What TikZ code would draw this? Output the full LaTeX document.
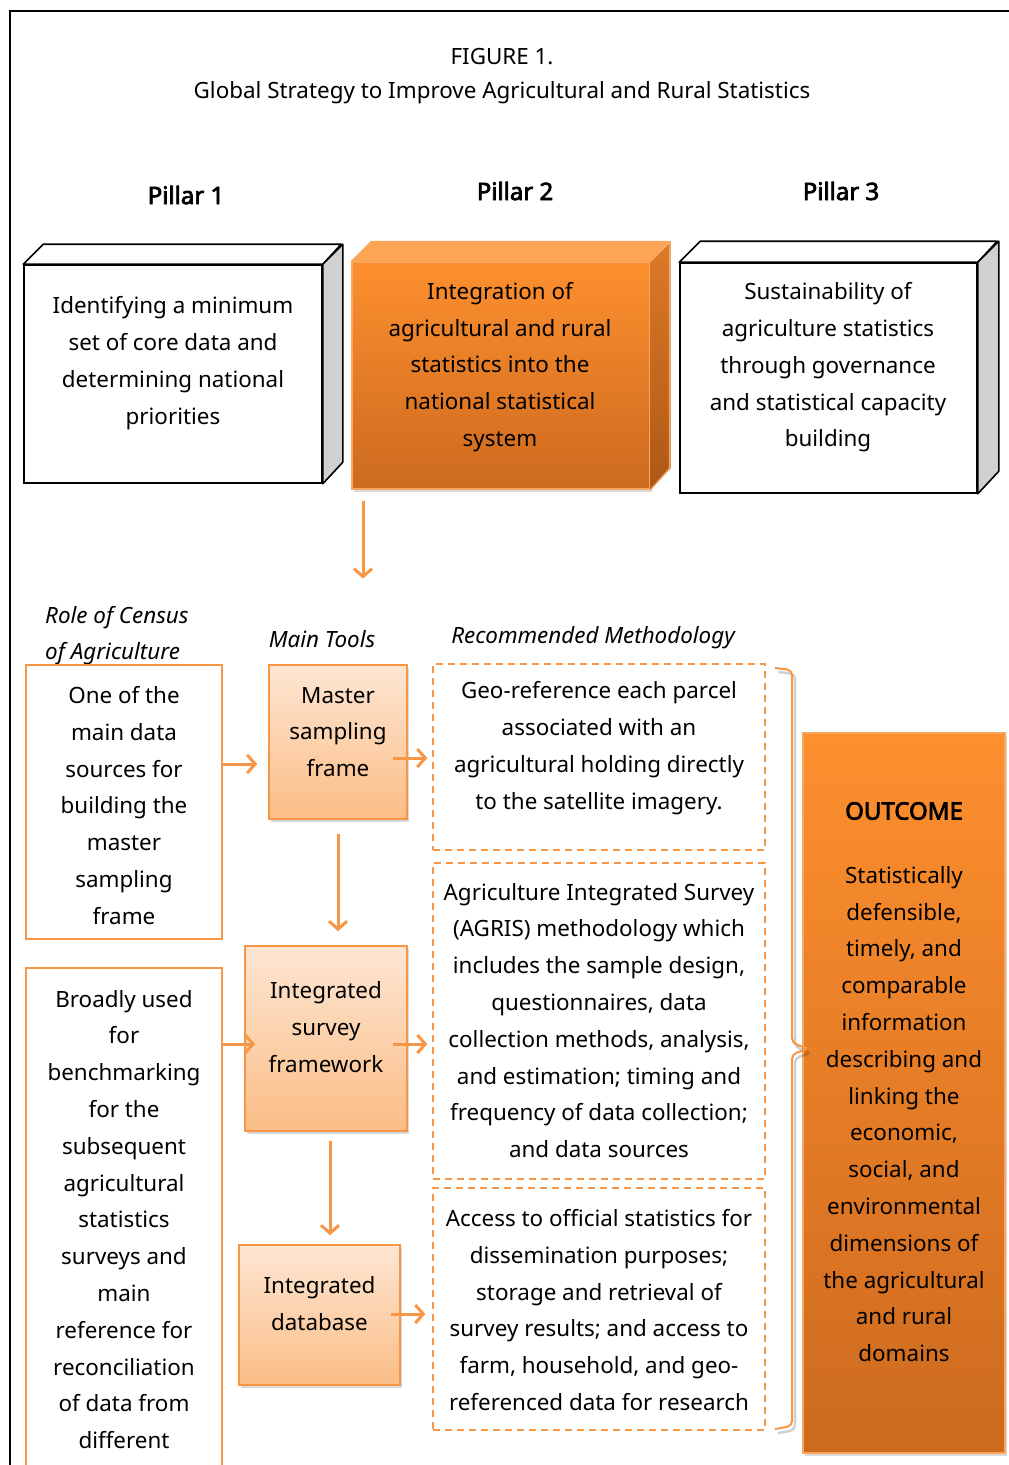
\documentclass[tikz,border=0pt]{standalone}
\usepackage{fontspec}
\setmainfont{Noto Sans}
\newfontfamily\heavy{Noto Sans}[FakeBold=3]
\usetikzlibrary{shadows,calc,arrows.meta}
\definecolor{acc}{HTML}{F79646}
\definecolor{orTop}{HTML}{FD8F2E}
\definecolor{orBot}{HTML}{CD6A1F}
\definecolor{orFace}{HTML}{FDA553}
\definecolor{orSideTop}{HTML}{DC7A28}
\definecolor{orSideBot}{HTML}{AE5816}
\definecolor{lightTop}{HTML}{FDE6D3}
\definecolor{lightBot}{HTML}{FBBD86}
\definecolor{sidegray}{HTML}{D0D0D0}
\begin{document}
\begin{tikzpicture}[x=1pt,y=-1pt,
  body/.style={font=\fontsize{22.4}{36.8}\selectfont, align=center, inner sep=0pt},
  head/.style={font=\fontsize{22.4}{36}\selectfont\itshape, inner sep=0pt},
  pillarhead/.style={font=\fontsize{24}{28}\selectfont\heavy, inner sep=0pt},
  whitebox/.style={draw=black, line width=1.6pt, fill=white, inner sep=0pt},
  frontface/.style={draw=acc!85!white, line width=1.2pt, top color=orTop, bottom color=orBot, inner sep=0pt,
     drop shadow={shadow xshift=2pt, shadow yshift=-3pt, opacity=.3}},
  toolbox/.style={draw=acc, line width=1.6pt, top color=lightTop, bottom color=lightBot, inner sep=0pt,
     drop shadow={shadow xshift=2pt, shadow yshift=-3pt, opacity=.3}},
  rolebox/.style={draw=acc, line width=1.4pt, fill=white, inner sep=0pt},
  methbox/.style={draw=acc, line width=1.4pt, dash pattern=on 7pt off 5pt, inner sep=0pt},
  arr/.style={draw=acc, line width=3pt, -{Straight Barb[length=8pt,width=18pt,line width=3pt]}},
]
\useasboundingbox (0,0) rectangle (1009,1465);
\clip (0,0) rectangle (1009,1465);

% outer frame, open to the right and bottom
\draw[line width=2.4pt] (10,1500) -- (10,11) -- (1030,11);

% title
\node[body] (fig) at (502,57) {FIGURE 1.};
\node[body] (ttl) at (502,93) {Global Strategy to Improve Agricultural and Rural Statistics};

% pillar headings
\node[pillarhead] (h1) at (186,195) {Pillar 1};
\node[pillarhead] (h2) at (515,191) {Pillar 2};
\node[pillarhead] (h3) at (841,191) {Pillar 3};

% pillar 1 block
\node[whitebox, minimum width=298pt, minimum height=218pt] (p1) at (173,374) {};
\draw[line width=1.6pt, fill=white, line join=round] (p1.north west) -- ++(20,-20) -- ++(298,0) -- (p1.north east) -- cycle;
\draw[line width=1.6pt, fill=sidegray, line join=round] (p1.north east) -- ++(20,-20) -- ++(0,218) -- (p1.south east) -- cycle;
\node[body] (t1) at (173,363) {Identifying a minimum\\set of core data and\\determining national\\priorities};

% pillar 2 block
\node[frontface, minimum width=298pt, minimum height=227pt] (p2) at (501,375.5) {};
\fill[orFace] (p2.north west) -- ++(20,-20) -- ++(298,0) -- (p2.north east) -- cycle;
\shade[top color=orSideTop, bottom color=orSideBot] (p2.north east) -- ++(20,-20) -- ++(0,227) -- (p2.south east) -- cycle;
\draw[acc!85!white, line width=1.2pt, line join=round] (p2.north west) -- ++(20,-20) -- ++(298,0) -- ++(0,227) -- (p2.south east)
   (p2.north east) -- ++(20,-20);
\node[body] (t2) at (500,367) {Integration of\\agricultural and rural\\statistics into the\\national statistical\\system};

% pillar 3 block
\node[whitebox, minimum width=297pt, minimum height=230pt] (p3) at (828.5,378) {};
\draw[line width=1.6pt, fill=white, line join=round] (p3.north west) -- ++(21,-21) -- ++(297,0) -- (p3.north east) -- cycle;
\draw[line width=1.6pt, fill=sidegray, line join=round] (p3.north east) -- ++(21,-21) -- ++(0,230) -- (p3.south east) -- cycle;
\node[body] (t3) at (828,367.5) {Sustainability of\\agriculture statistics\\through governance\\and statistical capacity\\building};

% arrow from pillar 2 to the tools
\coordinate (p2out) at ($(p2.south)+(-138,11)$);
\coordinate (toolsin) at ($(p2.south)+(-138,89)$);
\draw[arr] (p2out) -- (toolsin);

% column headings
\node[head, anchor=west, align=left] (hr) at (45,636) {Role of Census\\of Agriculture};
\node[head] (hm) at (322,639) {Main Tools};
\node[head] (hx) at (593,638) {Recommended Methodology};

% role of the census
\node[rolebox, minimum width=196pt, minimum height=274pt] (ra) at (124,802) {};
\node[body] at (124,805.5) {One of the\\main data\\sources for\\building the\\master\\sampling\\frame};
\node[rolebox, minimum width=196pt, minimum height=560pt] (rb) at (124,1248) {};
\node[body] at (124,1219.5) {Broadly used\\for\\benchmarking\\for the\\subsequent\\agricultural\\statistics\\surveys and\\main\\reference for\\reconciliation\\of data from\\different};

% main tools
\node[toolbox, minimum width=138pt, minimum height=154pt] (msf) at (338,742) {};
\node[body] at (338,732) {Master\\sampling\\frame};
\node[toolbox, minimum width=162pt, minimum height=185pt] (isf) at (326,1038.5) {};
\node[body] at (326,1027) {Integrated\\survey\\framework};
\node[toolbox, minimum width=161pt, minimum height=140pt] (idb) at (319.5,1315) {};
\node[body] at (319.5,1303.5) {Integrated\\database};

% recommended methodology
\node[methbox, minimum width=332pt, minimum height=186pt] (m1) at (599,757) {};
\node[body] at (599,748) {Geo-reference each parcel\\associated with an\\agricultural holding directly\\to the satellite imagery.};
\node[methbox, minimum width=332pt, minimum height=316pt] (m2) at (599,1021) {};
\node[body] at (599,1020.5) {Agriculture Integrated Survey\\(AGRIS) methodology which\\includes the sample design,\\questionnaires, data\\collection methods, analysis,\\and estimation; timing and\\frequency of data collection;\\and data sources};
\node[methbox, minimum width=332pt, minimum height=242pt] (m3) at (599,1309) {};
\node[body] at (599,1310) {Access to official statistics for\\dissemination purposes;\\storage and retrieval of\\survey results; and access to\\farm, household, and geo-\\referenced data for research};

% outcome
\node[frontface, minimum width=202pt, minimum height=720pt] (out) at (904,1093) {};
\node[pillarhead] (oh) at (904,811) {OUTCOME};
\node[body] at (904,1114) {Statistically\\defensible,\\timely, and\\comparable\\information\\describing and\\linking the\\economic,\\social, and\\environmental\\dimensions of\\the agricultural\\and rural\\domains};

% bracket gathering the methodology into the outcome
\draw[black, opacity=.18, line width=2.5pt, rounded corners=5pt, line join=round]
  (778,672) -- (795,674) -- (795,1047) -- (811,1053) -- (795,1058) -- (795,1430) -- (778,1433);
\draw[acc, line width=2pt, rounded corners=5pt, line join=round]
  (775,668) -- (792,670) -- (792,1043) -- (809,1049) -- (792,1054) -- (792,1426) -- (775,1429);

% connectors
\coordinate (sa) at ($(ra.east)+(0,-38)$);
\coordinate (msfw) at ($(msf.west)+(-11,0)$);
\draw[arr] (sa) -- (msfw |- sa);

\coordinate (s1) at ($(msf.east)+(-15,16)$);
\coordinate (m1w) at ($(m1.west)+(-5,0)$);
\draw[arr] (s1) -- (m1w |- s1);

\coordinate (sd1) at ($(msf.south)+(0,14)$);
\coordinate (isfn) at ($(isf.north)+(0,-14)$);
\draw[arr] (sd1) -- (sd1 |- isfn);

\coordinate (sb) at ($(rb.east)+(0,-204)$);
\coordinate (isfw) at ($(isf.west)+(11,0)$);
\draw[arr] (sb) -- (isfw |- sb);

\coordinate (s2) at ($(isf.east)+(-15,5.5)$);
\coordinate (m2w) at ($(m2.west)+(-5,0)$);
\draw[arr] (s2) -- (m2w |- s2);

\coordinate (sd2) at ($(isf.south)+(4,9)$);
\coordinate (idbn) at ($(idb.north)+(0,-9)$);
\draw[arr] (sd2) -- (sd2 |- idbn);

\coordinate (s3) at ($(idb.east)+(-10,-1)$);
\coordinate (m3w) at ($(m3.west)+(-7,0)$);
\draw[arr] (s3) -- (m3w |- s3);
\end{tikzpicture}
\end{document}
